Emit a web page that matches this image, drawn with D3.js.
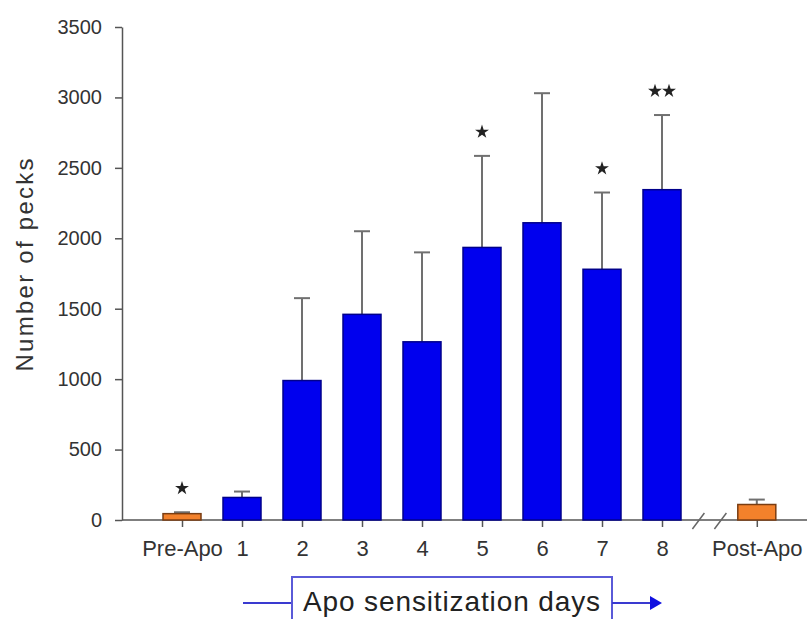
<!DOCTYPE html>
<html>
<head>
<meta charset="utf-8">
<script src="https://cdn.jsdelivr.net/npm/d3@7"></script>
<style>
  body { margin: 0; background: #fff; }
  svg { display: block; font-family: Arial, "Liberation Sans", sans-serif; }
</style>
</head>
<body>
<div id="chart"></div>
<script>
// data
const categories = ["Pre-Apo", "1", "2", "3", "4", "5", "6", "7", "8", "Post-Apo"];
const means = [45, 160, 990, 1460, 1265, 1935, 2110, 1780, 2345, 110];
const errors = [10, 42, 585, 590, 635, 650, 920, 545, 530, 35];
const stars = ["*", "", "", "", "", "*", "", "*", "**", ""];
const yTicks = [0, 500, 1000, 1500, 2000, 2500, 3000, 3500];

const width = 807, height = 619;
const blue = "#0000ee", orange = "#f3812b";

const svg = d3.select("#chart").append("svg")
  .attr("width", width)
  .attr("height", height);

const y = d3.scaleLinear().domain([0, 3500]).range([520, 27]);
// slot positions, Post-Apo sits after the axis break
const x = d3.scaleLinear().domain([0, 8]).range([182, 662]);
const slot = (i) => i < 9 ? i : i + 0.58;
const barW = 38;

// y axis
const yAxis = svg.append("g")
  .attr("transform", "translate(122,0)")
  .call(d3.axisLeft(y).tickValues(yTicks).tickFormat(d3.format("d"))
    .tickSize(7).tickPadding(13).tickSizeOuter(0));
yAxis.select(".domain").attr("stroke", "#555").attr("stroke-width", 1.5);
yAxis.selectAll(".tick line").attr("stroke", "#555").attr("stroke-width", 1.5);
yAxis.selectAll(".tick text")
  .attr("fill", "#333")
  .attr("font-size", 20)
  .attr("font-family", "Arial, 'Liberation Sans', sans-serif");

svg.append("text")
  .attr("transform", "translate(33,265) rotate(-90)")
  .attr("text-anchor", "middle")
  .attr("fill", "#333")
  .attr("font-size", 24)
  .attr("textLength", 213)
  .attr("lengthAdjust", "spacing")
  .text("Number of pecks");

// x axis (custom because of the break)
const base = y(0);
svg.append("line")
  .attr("x1", 122).attr("x2", width)
  .attr("y1", base).attr("y2", base)
  .attr("stroke", "#555").attr("stroke-width", 1.5);

const xAxis = svg.append("g")
  .attr("transform", `translate(0,${base})`)
  .call(d3.axisBottom(x)
    .tickValues(categories.map((d, i) => slot(i)))
    .tickFormat((d, i) => categories[i])
    .tickSize(7).tickPadding(13));
xAxis.select(".domain").remove();
xAxis.selectAll(".tick line").attr("stroke", "#555").attr("stroke-width", 1.5);
xAxis.selectAll(".tick text")
  .attr("fill", "#333")
  .attr("font-size", 22)
  .attr("font-family", "Arial, 'Liberation Sans', sans-serif");

// break marks
const bx = (x(8) + x(slot(9))) / 2;
[-11, 11].forEach(function (o) {
  svg.append("line")
    .attr("x1", bx + o - 6).attr("y1", base + 9)
    .attr("x2", bx + o + 6).attr("y2", base - 7)
    .attr("stroke", "#666").attr("stroke-width", 1.5);
});

// error bars (upper only)
const eb = svg.append("g");
categories.forEach(function (c, i) {
  const cx = x(slot(i));
  eb.append("line")
    .attr("x1", cx).attr("x2", cx)
    .attr("y1", y(means[i])).attr("y2", y(means[i] + errors[i]))
    .attr("stroke", "#707070").attr("stroke-width", 2);
  eb.append("line")
    .attr("x1", cx - 8).attr("x2", cx + 8)
    .attr("y1", y(means[i] + errors[i])).attr("y2", y(means[i] + errors[i]))
    .attr("stroke", "#707070").attr("stroke-width", 2);
});

// bars
svg.selectAll(".bar")
  .data(categories)
  .enter()
  .append("rect")
  .attr("class", "bar")
  .attr("x", (d, i) => x(slot(i)) - barW / 2)
  .attr("y", (d, i) => y(means[i]))
  .attr("width", barW)
  .attr("height", (d, i) => base - y(means[i]))
  .attr("fill", (d, i) => (i == 0 || i == 9) ? orange : blue)
  .attr("stroke", (d, i) => (i == 0 || i == 9) ? "#7a3d12" : "#00008b")
  .attr("stroke-width", 1.5);

// significance stars
const star = d3.symbol().type(d3.symbolStar).size(60);
categories.forEach(function (c, i) {
  const n = stars[i].length;
  for (let k = 0; k < n; k++) {
    const sx = x(slot(i)) + (k - (n - 1) / 2) * 14;
    const sy = y(means[i] + errors[i]) - 24;
    svg.append("path")
      .attr("d", star)
      .attr("transform", `translate(${sx},${sy})`)
      .attr("fill", "#222");
  }
});

// "Apo sensitization days" box with arrow
const boxY = 603;
svg.append("line")
  .attr("x1", 243).attr("x2", 292)
  .attr("y1", boxY).attr("y2", boxY)
  .attr("stroke", "#3a3ad0").attr("stroke-width", 2);
svg.append("rect")
  .attr("x", 292).attr("y", 577)
  .attr("width", 320).attr("height", 60)
  .attr("fill", "#fff")
  .attr("stroke", "#5a5ad8").attr("stroke-width", 2);
svg.append("line")
  .attr("x1", 612).attr("x2", 652)
  .attr("y1", boxY).attr("y2", boxY)
  .attr("stroke", "#3a3ad0").attr("stroke-width", 2);
svg.append("path")
  .attr("d", `M650,${boxY - 7}L662,${boxY}L650,${boxY + 7}Z`)
  .attr("fill", "#1010e0");
svg.append("text")
  .attr("x", 303).attr("y", 611)
  .attr("fill", "#222")
  .attr("font-size", 28)
  .attr("textLength", 297)
  .attr("lengthAdjust", "spacing")
  .text("Apo sensitization days");
</script>
</body>
</html>
